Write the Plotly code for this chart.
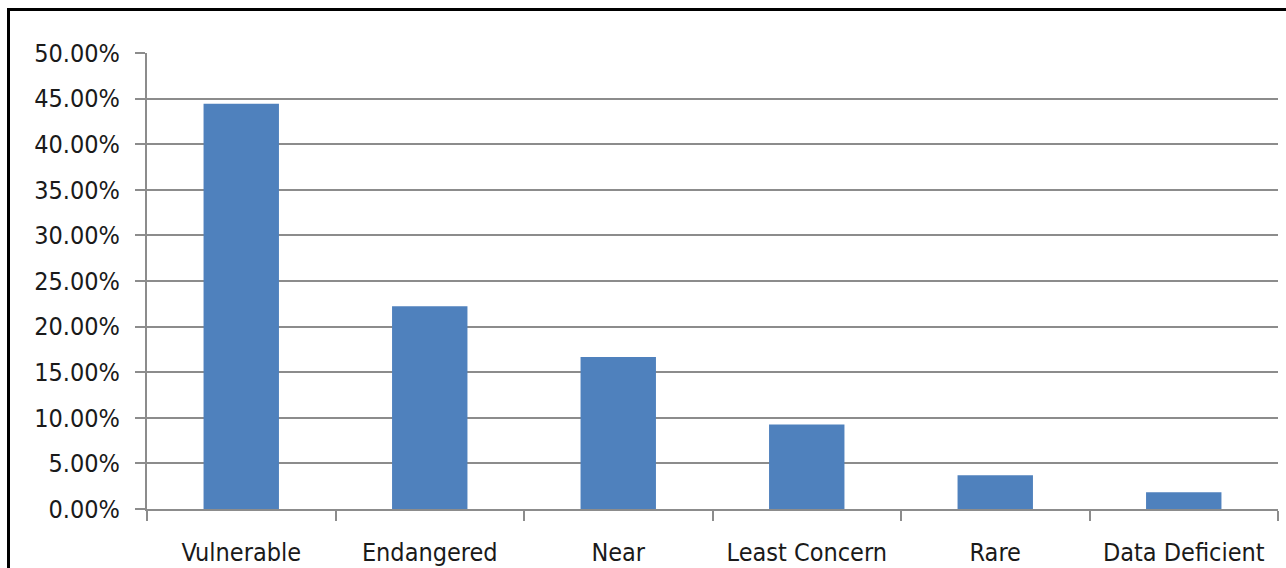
import plotly.graph_objects as go

categories = ["Vulnerable", "Endangered", "Near", "Least Concern", "Rare", "Data Deficient"]
shares = [0.4444, 0.2222, 0.1667, 0.0926, 0.0370, 0.0185]

W, H = 1286, 568
ML, MR, MT, MB = 147, 8, 53, 59
pw, ph = W - ML - MR, H - MT - MB

font = dict(family="DejaVu Sans Condensed, Liberation Sans Narrow, sans-serif",
            size=25, color="#1a1a1a")

fig = go.Figure(go.Bar(
    x=categories, y=shares, width=0.4,
    marker=dict(color="#4F81BD", line=dict(width=0)),
))

fig.update_layout(
    width=W, height=H,
    margin=dict(l=ML, r=MR, t=MT, b=MB, pad=0),
    paper_bgcolor="white", plot_bgcolor="white",
    showlegend=False, font=font,
    shapes=[dict(
        type="rect", xref="paper", yref="paper",
        x0=(8.5 - ML) / pw, x1=(W + 20 - ML) / pw,
        y0=-(MB + 20) / ph, y1=1 + (MT - 9.5) / ph,
        line=dict(color="black", width=3), fillcolor="rgba(0,0,0,0)", layer="below",
    )],
)

fig.update_xaxes(
    automargin=False, tickangle=0,
    showline=True, linecolor="#8c8c8c", linewidth=2,
    ticks="outside", tickson="boundaries", ticklen=10, tickwidth=2, tickcolor="#8c8c8c",
    showgrid=False, ticklabelstandoff=20,
)
fig.update_yaxes(
    automargin=False,
    range=[0, 0.5], dtick=0.05, tickformat=".2%",
    showline=True, linecolor="#8c8c8c", linewidth=2,
    ticks="outside", ticklen=10, tickwidth=2, tickcolor="#8c8c8c",
    showgrid=True, gridcolor="#8c8c8c", gridwidth=2, zeroline=False,
    ticklabelstandoff=10,
)

fig.write_html("out.html")
